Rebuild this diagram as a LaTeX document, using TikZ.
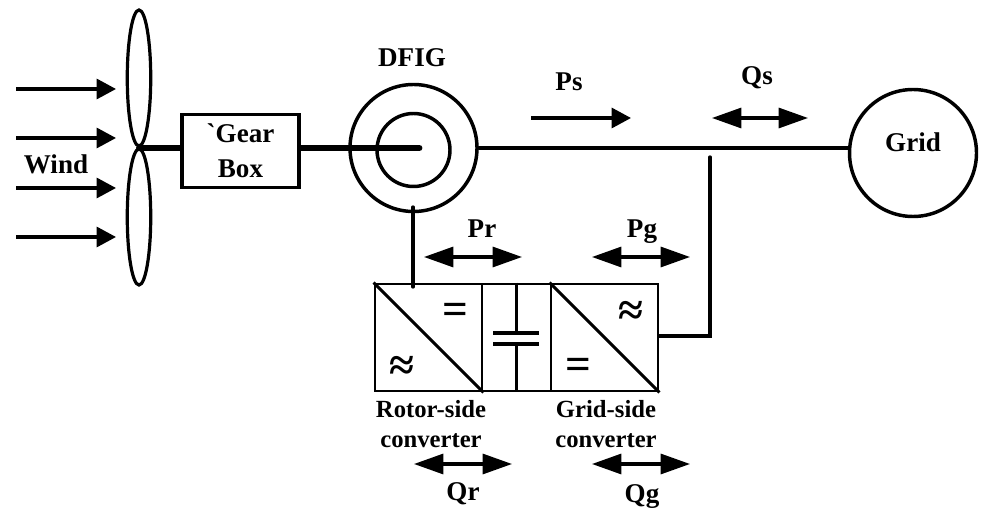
\documentclass[tikz,border=0pt]{standalone}
\usepackage{amsmath}
\usepackage{fontspec}
\setmainfont{Liberation Serif}[Ligatures=ResetAll]
\usetikzlibrary{arrows.meta,positioning,shapes.geometric}
\tikzset{every node/.append style={inner sep=0pt,font=\bfseries\fontsize{20.3}{26}\selectfont}}
\tikzset{smallfont/.style={font=\bfseries\fontsize{18.5}{22.5}\selectfont,align=center}}
\tikzset{symb/.style={font=\bfseries\fontsize{34}{34}\selectfont}}
\tikzset{blade/.style={draw,ellipse,line width=2.4pt,minimum width=17.6pt,minimum height=102pt}}
\tikzset{ring/.style={draw,circle,line width=2.6pt}}
\tikzset{conv/.style={draw,rectangle,line width=2.2pt,minimum height=80.25pt}}
\tikzset{thinline/.style={line width=2.5pt,line cap=round}}
\tikzset{oneway/.style={line width=2.3pt,-{Triangle[length=14.5pt,width=15pt]}}}
\tikzset{twoway/.style={line width=2.3pt,{Triangle[length=22pt,width=15pt]}-{Triangle[length=22pt,width=15pt]}}}

\begin{document}
\begin{tikzpicture}[x=.75pt,y=-.75pt]
  \useasboundingbox (0,0) rectangle (981,509);

  % turbine
  \coordinate (hub) at (139,148);
  \node[blade] (bladetop) at (139,78) {};
  \node[blade] (bladebot) at (139,217) {};

  \foreach \yy/\nn in {89/a,138/b,188/c,237/d} {
    \coordinate (windstart\nn) at (16,\yy);
    \coordinate (windend\nn) at (116,\yy);
    \draw[oneway] (windstart\nn) -- (windend\nn);
  }
  \node (wind) at (56,164) {Wind};

  % gear box and generator
  \node[draw,rectangle,line width=2.6pt,minimum width=87.75pt,minimum height=54.75pt,align=center] (gearbox) at (240.5,151) {\textasciigrave Gear\\Box};
  \node[ring,minimum size=95.25pt] (dfig) at (413.5,148) {};
  \node[ring,minimum size=54.75pt] (rotor) at (413.5,150) {};
  \node (dfiglabel) at (412,58) {DFIG};
  \node[ring,minimum size=95.25pt] (grid) at (913,153) {};
  \node (gridlabel) at (913,142) {Grid};
  \coordinate (shaftend) at (419,148);

  \draw[line width=4.5pt,line cap=round] (hub) -- (gearbox.west |- hub);
  \draw[line width=5.2pt,line cap=round] (gearbox.east |- hub) -- (shaftend);
  \draw[thinline] (dfig.east) -- (grid.west |- dfig.east);

  % converters
  \node[conv,minimum width=80.25pt] (rsc) at (428.5,337.5) {};
  \node[conv,minimum width=51.75pt] (dclink) at (516.5,337.5) {};
  \node[conv,minimum width=80.25pt] (gsc) at (604.5,337.5) {};
  \draw[line width=2.2pt] (rsc.north west) -- (rsc.south east);
  \draw[line width=2.2pt] (gsc.north west) -- (gsc.south east);

  \coordinate (capa) at (516.5,333);
  \coordinate (capb) at (516.5,344);
  \draw[line width=2.2pt] (dclink.north) -- (capa);
  \draw[line width=2.2pt] (capb) -- (dclink.south);
  \draw[line width=2.4pt] (493,333) -- (539,333);
  \draw[line width=2.4pt] (493,344) -- (539,344);

  \node[symb] (dca) at (455,314) {=};
  \node[symb] (aca) at (402,368) {≈};
  \node[symb] (acb) at (631,313) {≈};
  \node[symb] (dcb) at (578,369) {=};

  \coordinate (rotortap) at (413,207);
  \coordinate (rotorend) at (413,287);
  \draw[thinline] (rotortap) -- (rotorend);
  \coordinate (gridtap) at (710,157);
  \coordinate (gridknee) at (710,336);
  \draw[thinline] (gridtap) -- (gridknee) -- (gsc.east |- gridknee);

  % power flows
  \coordinate (psa) at (531,118);
  \coordinate (psb) at (631,118);
  \draw[oneway] (psa) -- (psb);
  \foreach \nn/\xa/\xb/\yy in {qs/712/808/118,pr/424/522/257,pg/592/690/257,qr/414/512/464,qg/592/690/464} {
    \coordinate (\nn a) at (\xa,\yy);
    \coordinate (\nn b) at (\xb,\yy);
    \draw[twoway] (\nn a) -- (\nn b);
  }
  \node (pslabel) at (569,82) {Ps};
  \node (qslabel) at (757,78) {Qs};
  \node (prlabel) at (482,229) {Pr};
  \node (pglabel) at (642,232) {Pg};
  \node (qrlabel) at (463,494) {Qr};
  \node (qglabel) at (642,497) {Qg};

  \node[smallfont] (rsclabel) at (431,424) {Rotor-side\\converter};
  \node[smallfont] (gsclabel) at (606,424) {Grid-side\\converter};
\end{tikzpicture}
\end{document}
